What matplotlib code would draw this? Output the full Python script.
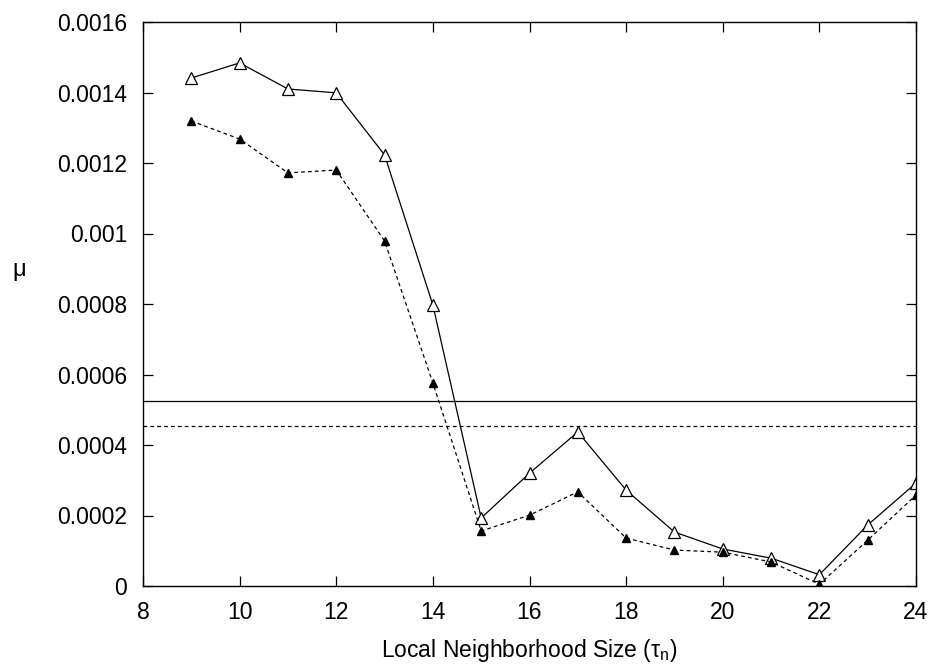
import matplotlib
matplotlib.use('Agg')
import matplotlib.pyplot as plt

# neighborhood sizes and mu values for the two runs
sizes = [9, 10, 11, 12, 13, 14, 15, 16, 17, 18, 19, 20, 21, 22, 23, 24]
mu_open = [0.001441, 0.001484, 0.001410, 0.001399, 0.001223, 0.000797, 0.000193, 0.000320,
           0.000437, 0.000272, 0.000153, 0.000105, 0.000079, 0.000032, 0.000173, 0.000292]
mu_filled = [0.001319, 0.001268, 0.001172, 0.001180, 0.000979, 0.000576, 0.000156, 0.000201,
             0.000267, 0.000136, 0.000102, 0.000096, 0.000068, 0.000005, 0.000130, 0.000258]
# reference levels
level_solid = 0.000525
level_dashed = 0.000454

plt.rcParams['font.family'] = ['Liberation Sans', 'DejaVu Sans']
plt.rcParams['mathtext.fontset'] = 'custom'
plt.rcParams['mathtext.rm'] = 'Liberation Sans'
plt.rcParams['mathtext.it'] = 'Liberation Sans'

fs = 16.5
fig = plt.figure(figsize=(9.33, 6.66), dpi=100)
ax = fig.add_axes([143/933, 1 - 586/666, (916-143)/933, (586-22)/666])

ax.plot(sizes, mu_open, color='black', lw=0.9, marker='^', markersize=8,
        markerfacecolor='white', markeredgecolor='black', markeredgewidth=0.9)
ax.plot(sizes, mu_filled, color='black', lw=0.9, linestyle=(0, (3, 2.5)), marker='^',
        markersize=5.5, markerfacecolor='black', markeredgecolor='black')
ax.axhline(level_solid, color='black', lw=0.9)
ax.axhline(level_dashed, color='black', lw=0.9, linestyle=(0, (3, 2.5)))

ax.set_xlim(8, 24)
ax.set_ylim(0, 0.0016)
ax.set_xticks(range(8, 25, 2))
yt = [0, 0.0002, 0.0004, 0.0006, 0.0008, 0.001, 0.0012, 0.0014, 0.0016]
ax.set_yticks(yt)
ax.set_yticklabels(['0', '0.0002', '0.0004', '0.0006', '0.0008', '0.001', '0.0012', '0.0014', '0.0016'])
ax.tick_params(direction='in', length=7, width=0.9, top=True, right=True, labelsize=fs)
ax.tick_params(axis='y', pad=11.5)
ax.tick_params(axis='x', pad=11)
for s in ax.spines.values():
    s.set_linewidth(1.0)

ax.set_xlabel(r'Local Neighborhood Size ($\tau_\mathregular{n}$)', fontsize=fs, labelpad=9)
fig.text(12/933, 1 - 272/666, r'$\mu$', fontsize=17, ha='left', va='center')

fig.savefig('out.png', dpi=100)
